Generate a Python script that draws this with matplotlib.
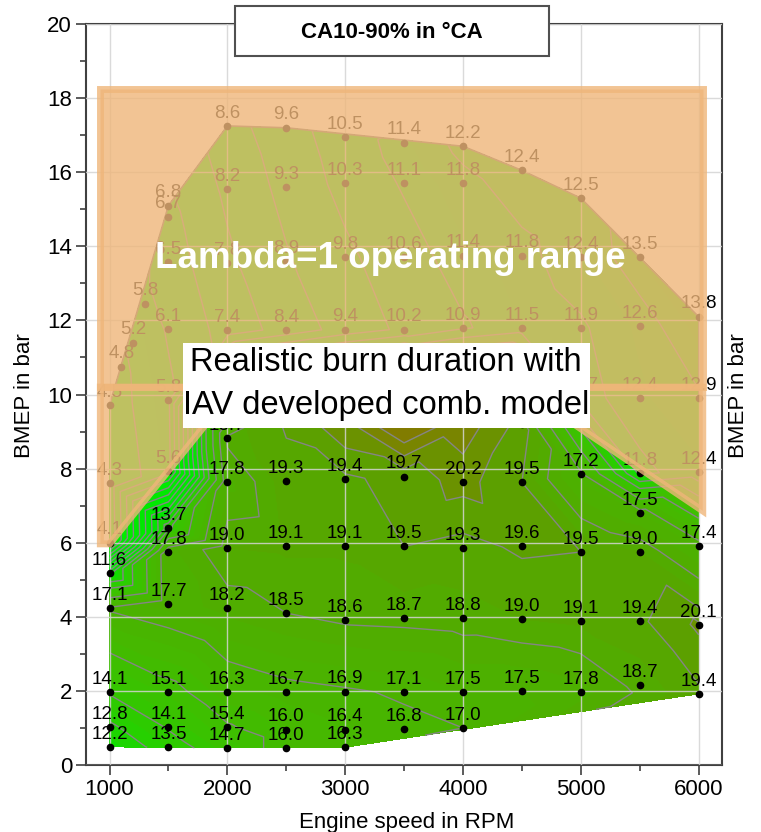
import numpy as np
import matplotlib
matplotlib.use("Agg")
import matplotlib.pyplot as plt
import matplotlib.tri as mtri
from matplotlib.colors import LinearSegmentedColormap
from matplotlib.patches import Polygon, Rectangle
from matplotlib.collections import LineCollection

plt.rcParams['font.family'] = ['Liberation Sans', 'DejaVu Sans']

# measured operating points: engine speed (rpm), BMEP (bar), CA10-90 (°CA)
speed_rpm = (
    [1000] * 8 + [1100, 1200, 1300] + [1500] * 12 + [2000] * 11 + [2500] * 11
    + [3000] * 11 + [3500] * 10 + [4000] * 10 + [4500] * 8 + [5000] * 8
    + [5500] * 8 + [6000] * 6
)
bmep_bar = [
    0.49, 1.03, 1.97, 4.24, 5.18, 6.0, 7.6, 9.72,
    10.75, 11.4, 12.45,
    0.49, 1.03, 1.97, 4.34, 5.75, 6.4, 7.94, 9.85, 11.77, 13.58, 14.8, 15.1,
    0.46, 1.03, 1.97, 4.24, 5.86, 7.64, 8.83, 11.74, 13.55, 15.55, 17.25,
    0.46, 0.95, 1.97, 4.1, 5.9, 7.67, 9.4, 11.74, 13.6, 15.6, 17.2,
    0.48, 0.95, 1.98, 3.91, 5.9, 7.72, 9.4, 11.75, 13.7, 15.7, 16.95,
    0.97, 1.97, 3.96, 5.9, 7.78, 9.4, 11.75, 13.7, 15.7, 16.8,
    1.0, 1.97, 3.96, 5.86, 7.64, 9.4, 11.8, 13.75, 15.7, 16.7,
    2.0, 3.94, 5.9, 7.63, 9.2, 11.8, 13.75, 16.05,
    1.97, 3.89, 5.75, 7.85, 9.9, 11.8, 13.7, 15.3,
    2.16, 3.89, 5.75, 6.8, 7.88, 9.9, 11.85, 13.7,
    1.92, 3.78, 5.9, 7.9, 9.9, 12.1,
]
ca10_90 = [
    12.2, 12.8, 14.1, 17.1, 11.6, 4.1, 4.3, 4.5,
    4.8, 5.2, 5.8,
    13.5, 14.1, 15.1, 17.7, 17.8, 13.7, 5.6, 5.8, 6.1, 6.5, 6.7, 6.8,
    14.7, 15.4, 16.3, 18.2, 19.0, 17.8, 18.7, 7.4, 7.8, 8.2, 8.6,
    16.0, 16.0, 16.7, 18.5, 19.1, 19.3, 19.6, 8.4, 8.9, 9.3, 9.6,
    16.3, 16.4, 16.9, 18.6, 19.1, 19.4, 20.6, 9.4, 9.8, 10.3, 10.5,
    16.8, 17.1, 18.7, 19.5, 19.7, 22.0, 10.2, 10.6, 11.1, 11.4,
    17.0, 17.5, 18.8, 19.3, 20.2, 20.9, 10.9, 11.4, 11.8, 12.2,
    17.5, 19.0, 19.6, 19.5, 19.8, 11.5, 11.8, 12.4,
    17.8, 19.1, 19.5, 17.2, 11.7, 11.9, 12.4, 12.5,
    18.7, 19.4, 19.0, 17.5, 11.8, 12.4, 12.6, 13.5,
    19.4, 20.1, 17.4, 12.4, 12.9, 13.8,
]

# lambda=1 region outline (upper block and lower part)
lam_top_x = [922, 6035, 6035, 922]
lam_top_y = [18.25, 18.25, 10.2, 10.2]
lam_low_x = [922, 6035, 6035, 4920, 1830, 1000, 922]
lam_low_y = [10.2, 10.2, 6.86, 9.25, 9.25, 5.97, 5.97]

# white note box (rpm / bar)
note_x0, note_x1 = 1625, 5074
note_y0, note_y1 = 9.11, 11.4

# colour scale of the burn duration map
cmap_vals = [4, 11.5, 13, 14.5, 16, 17.5, 19, 20.0, 20.5, 21.2, 22]
cmap_cols = ['#00ee00', '#00e600', '#22d200', '#38c400', '#44ba00',
             '#4cb100', '#53aa00', '#5e9e00', '#748b00', '#807d00', '#857800']
vmin, vmax = 4, 22
cmap = LinearSegmentedColormap.from_list(
    'burn', [((v - vmin) / (vmax - vmin), c) for v, c in zip(cmap_vals, cmap_cols)])
fill_levels = np.arange(3, 22.5, 0.5)
line_levels = [5, 6, 7, 8, 9, 10, 11, 12, 13, 14, 15.5, 17, 18.5, 19.5, 20, 20.5, 21]

fig = plt.figure(figsize=(7.61, 8.32), dpi=100)
ax = fig.add_axes([0.113, 0.0805, 0.836, 0.8906])

x = np.array(speed_rpm, dtype=float)
y = np.array(bmep_bar, dtype=float)
z = np.array(ca10_90, dtype=float)

# triangulate on roughly equal scaled axes
tri_s = mtri.Triangulation(x / 300.0, y)
tri = mtri.Triangulation(x, y, triangles=tri_s.triangles)

ax.tricontourf(tri, z, levels=fill_levels, cmap=cmap, vmin=vmin, vmax=vmax, zorder=1)
ax.tricontour(tri, z, levels=line_levels, colors='#858585', linewidths=1.0, zorder=1.5)

# outline of the measured area (upper part)
segs = []
for t, nb in zip(tri.triangles, tri.neighbors):
    for k in range(3):
        if nb[k] == -1:
            i, j = t[k], t[(k + 1) % 3]
            if min(y[i], y[j]) > 9:
                segs.append([(x[i], y[i]), (x[j], y[j])])
ax.add_collection(LineCollection(segs, colors='#707070', linewidths=1.2, zorder=1.6))

ax.plot(x, y, 'o', color='black', ms=4.5, zorder=3)
for xi, yi, zi in zip(x, y, z):
    # points sitting completely behind the note box get no label
    if note_x0 < xi < 4900 and 9.0 < yi < 10.5:
        continue
    ax.annotate(f'{zi:.1f}', (xi, yi), xytext=(0, 6), textcoords='offset points',
                ha='center', va='baseline', fontsize=13.5, zorder=4)

# lambda=1 operating range overlay
for px, py in ((lam_top_x, lam_top_y), (lam_low_x, lam_low_y)):
    ax.add_patch(Polygon(list(zip(px, py)), closed=True, facecolor='#efb67a',
                         edgecolor='#efb67a', lw=5, alpha=0.8, zorder=5))

ax.text(3379, 13.66, 'Lambda=1 operating range', color='white', fontsize=26.5,
        fontweight='bold', ha='center', va='center', zorder=6)

ax.add_patch(Rectangle((note_x0, note_y0), note_x1 - note_x0, note_y1 - note_y0,
                       facecolor='white', edgecolor='none', zorder=6))
ax.text(3347, 10.86, 'Realistic burn duration with', fontsize=23.5,
        ha='center', va='center', zorder=7)
ax.text(3347, 9.7, 'IAV developed comb. model', fontsize=23.5,
        ha='center', va='center', zorder=7)

ax.set_xlim(800, 6200)
ax.set_ylim(0, 20)
ax.set_xticks(np.arange(1000, 6001, 1000))
ax.set_xticks(np.arange(1500, 6000, 1000), minor=True)
ax.set_yticks(np.arange(0, 21, 2))
ax.set_yticks(np.arange(1, 20, 2), minor=True)
ax.tick_params(which='major', length=7, width=1.2, labelsize=16, color='#404040', pad=3)
ax.tick_params(which='minor', length=4.5, width=1.2, color='#404040')
ax.grid(True, which='major', color='#d4d4d4', lw=1, alpha=0.85, zorder=2.5)
ax.set_axisbelow(False)
for sp in ax.spines.values():
    sp.set_color('#404040')
    sp.set_linewidth(1.5)

fig.text(0.535, 0.005, 'Engine speed in RPM', fontsize=16, ha='center', va='baseline')
fig.text(0.032, 0.525, 'BMEP in bar', fontsize=16, rotation=90, ha='center', va='center')
fig.text(0.971, 0.525, 'BMEP in bar', fontsize=16, rotation=90, ha='center', va='center')

# title box
fig.add_artist(Rectangle((235 / 761, 1 - 56 / 832), 314 / 761, 50 / 832,
                         transform=fig.transFigure, facecolor='white',
                         edgecolor='#505050', lw=1.5, zorder=10))
fig.text(392 / 761, 1 - 32 / 832, 'CA10-90% in °CA', fontsize=16, fontweight='bold',
         ha='center', va='center', zorder=11)

fig.savefig('out.png', dpi=100)
